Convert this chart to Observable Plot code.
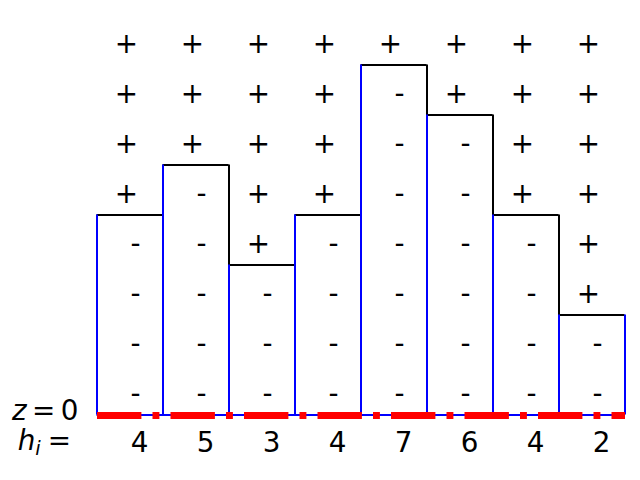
<!DOCTYPE html>
<html><head><meta charset="utf-8">
<script src="https://cdn.jsdelivr.net/npm/d3@7"></script>
<script src="https://cdn.jsdelivr.net/npm/@observablehq/plot@0.6"></script>
<style>body{margin:0;background:#fff}</style>
</head><body><div id="chart"></div>
<script>
const heights = [4, 5, 3, 4, 7, 6, 4, 2];
const positions = [0, 1, 2, 3, 4, 5, 6, 7];
const rowLevels = [0, 1, 2, 3, 4, 5, 6, 7];
const signBelow = "-";
const signAbove = "+";

const columns = positions.map((p, i) => ({x1: p, x2: p + 1, mid: p + 0.5, h: heights[i], label: String(heights[i])}));
const cells = [];
columns.forEach(c => rowLevels.forEach(k => cells.push({x: c.mid, y: k + 0.5, s: k < c.h ? signBelow : signAbove})));

const FS = 27.8;
const crisp = {strokeWidth: 2, dx: -0.5, dy: -0.5};
const plot = Plot.plot({
  width: 640, height: 480,
  marginLeft: 97, marginRight: 15, marginTop: 15, marginBottom: 65,
  x: {domain: [0, 8], axis: null},
  y: {domain: [0, 8], axis: null},
  style: {fontFamily: "DejaVu Sans", background: "white", color: "black"},
  marks: [
    Plot.ruleY(columns, {y: "h", x1: "x1", x2: "x2", stroke: "black", ...crisp}),
    Plot.ruleX(columns.slice(0, -1), {x: "x2", y1: 0, y2: "h", stroke: "black", ...crisp}),
    Plot.ruleX(columns, {x: "x1", y1: 0, y2: "h", stroke: "blue", ...crisp}),
    Plot.ruleX(columns.slice(-1), {x: "x2", y1: 0, y2: "h", stroke: "blue", ...crisp}),
    Plot.ruleY([0], {x1: 0, x2: 8, stroke: "blue", ...crisp}),
    Plot.ruleY([0], {x1: 0, x2: 8, stroke: "red", strokeWidth: 7, strokeDasharray: "44.4,11.1,6.9,11.1"}),
    Plot.text(cells.filter(d => d.s === signAbove), {x: "x", y: "y", text: "s", fontSize: FS, dx: -4, dy: 3.5}),
    Plot.text(cells.filter(d => d.s === signBelow), {x: "x", y: "y", text: "s", fontSize: FS, dx: 5, dy: 3.5}),
    Plot.text(columns, {x: "mid", y: 0, text: "label", fontSize: FS, dx: 9, dy: 27.5})
  ]
});
document.getElementById("chart").appendChild(plot);

const X = plot.scale("x"), Y = plot.scale("y");
const x0 = X.apply(0), y0 = Y.apply(0);
const svg = d3.select(plot);
const t1 = svg.append("text").attr("x", x0 - 18.5).attr("y", y0 + 5)
  .attr("text-anchor", "end").attr("font-size", FS).attr("font-family", "DejaVu Sans");
t1.append("tspan").attr("font-style", "italic").text("z");
t1.append("tspan").attr("dx", 5.5).text("=");
t1.append("tspan").attr("dx", 5.5).text("0");
const t2 = svg.append("text").attr("x", x0 - 26).attr("y", y0 + 35)
  .attr("text-anchor", "end").attr("font-size", FS).attr("font-family", "DejaVu Sans");
t2.append("tspan").attr("font-style", "italic").text("h");
t2.append("tspan").attr("font-style", "italic").attr("font-size", 19.5).attr("dy", 5).text("i");
t2.append("tspan").attr("dy", -5).attr("dx", 7).text("=");
</script>
</body></html>
